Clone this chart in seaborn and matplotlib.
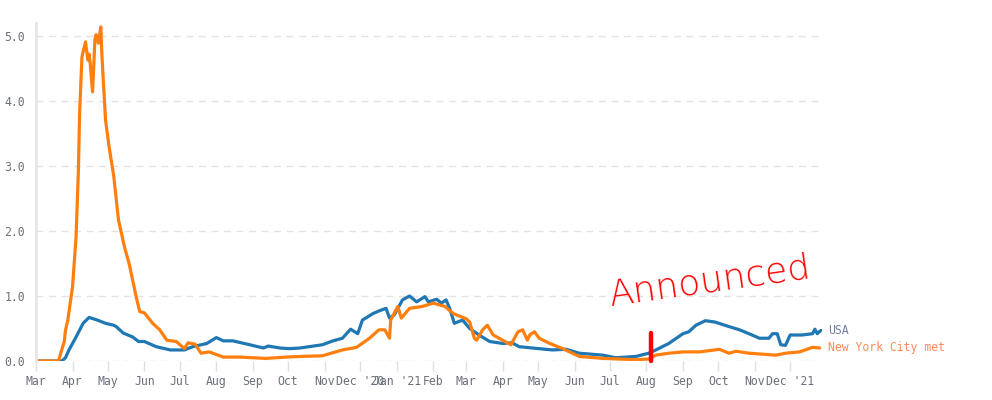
import matplotlib
matplotlib.use("Agg")
import matplotlib.pyplot as plt
import matplotlib.dates as mdates
import matplotlib.transforms as mtransforms
import seaborn as sns
import pandas as pd

# ---- data ----
usa_dates = ["2020-03-01","2020-03-23","2020-03-26","2020-03-29","2020-04-04","2020-04-10","2020-04-15",
             "2020-04-22","2020-04-29","2020-05-06","2020-05-08","2020-05-14","2020-05-22","2020-05-27",
             "2020-06-01","2020-06-11","2020-06-23","2020-07-05","2020-07-12","2020-07-24","2020-08-01",
             "2020-08-07","2020-08-15","2020-08-27","2020-09-10","2020-09-14","2020-09-24","2020-10-02",
             "2020-10-11","2020-10-30","2020-11-08","2020-11-16","2020-11-23","2020-11-29","2020-12-03",
             "2020-12-12","2020-12-17","2020-12-23","2020-12-26","2020-12-30","2021-01-06","2021-01-12",
             "2021-01-18","2021-01-25","2021-01-28","2021-02-04","2021-02-08","2021-02-12","2021-02-15",
             "2021-02-19","2021-02-26","2021-03-04","2021-03-12","2021-03-21","2021-04-01","2021-04-09",
             "2021-04-15","2021-05-13","2021-05-25","2021-06-05","2021-06-25","2021-07-06","2021-07-23",
             "2021-08-03","2021-08-09","2021-08-20","2021-09-01","2021-09-06","2021-09-12","2021-09-20",
             "2021-09-28","2021-10-10","2021-10-19","2021-10-27","2021-11-05","2021-11-13","2021-11-16",
             "2021-11-20","2021-11-23","2021-11-27","2021-12-01","2021-12-11","2021-12-20","2021-12-22",
             "2021-12-24","2021-12-27"]
usa_values = [0.0,0.0,0.05,0.17,0.37,0.58,0.67,
              0.63,0.58,0.55,0.53,0.43,0.37,0.30,
              0.30,0.22,0.17,0.17,0.22,0.27,0.36,
              0.31,0.31,0.26,0.20,0.23,0.20,0.19,
              0.20,0.25,0.31,0.35,0.49,0.42,0.63,
              0.73,0.77,0.81,0.66,0.71,0.94,1.00,
              0.91,0.99,0.91,0.95,0.89,0.94,0.81,
              0.58,0.63,0.50,0.40,0.30,0.27,0.28,
              0.22,0.17,0.18,0.12,0.09,0.05,0.07,
              0.12,0.17,0.27,0.42,0.45,0.55,0.62,
              0.60,0.53,0.48,0.42,0.35,0.35,0.42,
              0.42,0.25,0.24,0.40,0.40,0.42,0.49,
              0.42,0.47]

nyc_dates = ["2020-03-01","2020-03-20","2020-03-25","2020-03-26","2020-03-28","2020-04-01","2020-04-04",
             "2020-04-06","2020-04-07","2020-04-09","2020-04-12","2020-04-14","2020-04-15","2020-04-16",
             "2020-04-18","2020-04-20","2020-04-21","2020-04-23","2020-04-25","2020-04-26","2020-04-29",
             "2020-05-02","2020-05-06","2020-05-10","2020-05-15","2020-05-19","2020-05-25","2020-05-28",
             "2020-06-01","2020-06-08","2020-06-14","2020-06-20","2020-06-28","2020-07-05","2020-07-08",
             "2020-07-14","2020-07-19","2020-07-26","2020-08-07","2020-08-21","2020-09-12","2020-09-29",
             "2020-10-11","2020-10-30","2020-11-16","2020-11-28","2020-12-09","2020-12-17","2020-12-22",
             "2020-12-26","2020-12-27","2021-01-02","2021-01-05","2021-01-12","2021-01-23","2021-02-01",
             "2021-02-11","2021-02-18","2021-03-01","2021-03-04","2021-03-08","2021-03-10","2021-03-15",
             "2021-03-19","2021-03-24","2021-04-01","2021-04-08","2021-04-14","2021-04-18","2021-04-22",
             "2021-04-24","2021-04-28","2021-05-02","2021-05-11","2021-05-22","2021-06-05","2021-06-25",
             "2021-07-23","2021-08-03","2021-08-09","2021-08-20","2021-09-01","2021-09-15","2021-10-02",
             "2021-10-10","2021-10-16","2021-10-27","2021-11-19","2021-11-27","2021-12-09","2021-12-20",
             "2021-12-26"]
nyc_values = [0.0,0.0,0.30,0.47,0.63,1.14,1.91,
              2.94,3.81,4.68,4.91,4.63,4.72,4.58,
              4.14,4.94,5.02,4.89,5.14,4.68,3.71,
              3.30,2.84,2.17,1.76,1.50,0.99,0.76,
              0.74,0.58,0.48,0.32,0.30,0.19,0.28,
              0.26,0.12,0.14,0.06,0.06,0.04,0.06,
              0.07,0.08,0.17,0.21,0.35,0.48,0.48,
              0.35,0.63,0.84,0.66,0.81,0.84,0.89,
              0.84,0.73,0.65,0.60,0.35,0.32,0.48,
              0.55,0.40,0.32,0.25,0.45,0.48,0.32,
              0.40,0.45,0.35,0.27,0.19,0.07,0.04,
              0.02,0.03,0.09,0.12,0.14,0.14,0.18,
              0.12,0.15,0.12,0.09,0.12,0.14,0.21,
              0.20]

tick_dates = ["2020-03-01","2020-04-01","2020-05-01","2020-06-01","2020-07-01","2020-08-01",
              "2020-09-01","2020-10-01","2020-11-01","2020-12-01","2021-01-01","2021-02-01",
              "2021-03-01","2021-04-01","2021-05-01","2021-06-01","2021-07-01","2021-08-01",
              "2021-09-01","2021-10-01","2021-11-01","2021-12-01"]
tick_labels = ["Mar","Apr","May","Jun","Jul","Aug","Sep","Oct","Nov","Dec '20","Jan '21","Feb",
               "Mar","Apr","May","Jun","Jul","Aug","Sep","Oct","Nov","Dec '21"]
y_ticks = [0, 1, 2, 3, 4, 5]
series_names = ["USA", "New York City met"]
series_colors = ["#1f77b4", "#ff7f0e"]
label_colors = ["#6b7ea3", "#ff8a5c"]
annotation_text = "Announced"
annotation_date = "2021-08-05"

# ---- build frame ----
df = pd.concat([
    pd.DataFrame({"date": pd.to_datetime(usa_dates), "value": usa_values, "series": series_names[0]}),
    pd.DataFrame({"date": pd.to_datetime(nyc_dates), "value": nyc_values, "series": series_names[1]}),
])

sns.set_theme(style="white")
plt.rcParams["font.family"] = ["DejaVu Sans Mono", "DejaVu Sans"]

fig = plt.figure(figsize=(9.92, 4.0), dpi=100)
ax = fig.add_axes([36/992, 39/400, 786/992, 338/400])

sns.lineplot(data=df, x="date", y="value", hue="series",
             palette=dict(zip(series_names, series_colors)),
             linewidth=2.3, legend=False, ax=ax, sort=True)

ax.set_xlim(pd.Timestamp("2020-03-01"), pd.Timestamp("2021-12-28"))
ax.set_ylim(0, 5.2)

ax.set_yticks(y_ticks)
ax.set_yticklabels([f"{v:.1f}" for v in y_ticks])
ax.set_xticks(pd.to_datetime(tick_dates))
ax.set_xticklabels(tick_labels)
ax.set_xlabel("")
ax.set_ylabel("")

ax.grid(axis="y", color="#e3e3e3", linestyle=(0, (5, 4)), linewidth=1)
ax.grid(axis="x", visible=False)
ax.set_axisbelow(True)
for s in ["top", "right", "bottom"]:
    ax.spines[s].set_visible(False)
ax.spines["left"].set_color("#e6e6e6")
ax.spines["left"].set_linewidth(2)

ax.tick_params(axis="x", which="both", bottom=True, length=7, width=1, color="#e0e0e0",
               labelsize=8.3, labelcolor="#6a6f7a", pad=3)
ax.tick_params(axis="y", left=False, length=0, labelsize=8.3, labelcolor="#6a6f7a", pad=8)

# end labels
blend = mtransforms.blended_transform_factory(ax.transAxes, ax.transData)
ax.text(1.008, usa_values[-1], series_names[0], transform=blend,
        color=label_colors[0], fontsize=8.3, va="center", ha="left", clip_on=False)
ax.text(1.008, nyc_values[-1], series_names[1], transform=blend,
        color=label_colors[1], fontsize=8.3, va="center", ha="left", clip_on=False)

# hand-drawn annotation
ann_x = mdates.date2num(pd.Timestamp(annotation_date))
ax.plot([ann_x, ann_x], [0.0, 0.43], color="#ff0000", linewidth=3.2, solid_capstyle="round",
        clip_on=False)
ax.text(mdates.date2num(pd.Timestamp("2021-09-24")), 1.22, annotation_text, color="#ff0000",
        fontsize=26, family="DejaVu Sans", fontweight="light", rotation=8,
        ha="center", va="center")

fig.savefig("out.png", dpi=100)
